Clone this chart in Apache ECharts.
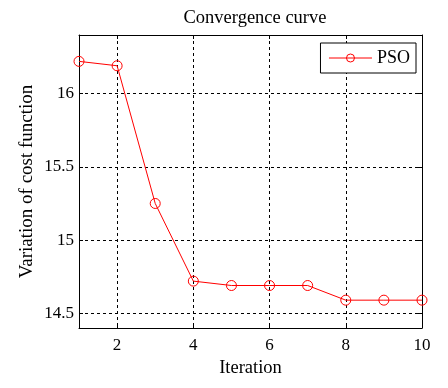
<!DOCTYPE html>
<html>
<head>
<meta charset="utf-8">
<script src="https://cdn.jsdelivr.net/npm/echarts@6/dist/echarts.min.js"></script>
<style>
  html, body { margin: 0; padding: 0; background: #fff; }
  #chart { width: 448px; height: 388px; }
</style>
</head>
<body>
<div id="chart"></div>
<script>
// convergence data
var iterations = [1, 2, 3, 4, 5, 6, 7, 8, 9, 10];
var psoCost = [16.22, 16.19, 15.25, 14.72, 14.69, 14.69, 14.69, 14.59, 14.59, 14.59];
var xTicks = [2, 4, 6, 8, 10];
var yTicks = [14.5, 15, 15.5, 16];

var serif = "Liberation Serif";

var chart = echarts.init(document.getElementById("chart"));

var pts = iterations.map(function (it, i) {
  return [it, psoCost[i]];
});

var option = {
  animation: false,
  backgroundColor: "#fff",
  title: {
    text: "Convergence curve",
    top: 4,
    left: 250,
    textAlign: "center",
    textStyle: { fontFamily: serif, fontSize: 18.5, fontWeight: "normal", color: "#000" }
  },
  grid: { left: 79, right: 26, top: 35, bottom: 60 },
  legend: {
    data: ["PSO"],
    right: 32,
    top: 43,
    orient: "vertical",
    backgroundColor: "#fff",
    borderColor: "#000",
    borderWidth: 1,
    borderRadius: 0,
    padding: [6, 6, 6, 8],
    itemWidth: 43,
    itemHeight: 10,
    itemGap: 4,
    itemStyle: { borderWidth: 1 },
    lineStyle: { color: "#ff0000", width: 1 },
    textStyle: { fontFamily: serif, fontSize: 18, color: "#000" }
  },
  xAxis: [
    {
      type: "value",
      min: 1,
      max: 10,
      name: "Iteration",
      nameLocation: "middle",
      nameGap: 31,
      nameMoveOverlap: false,
      nameTextStyle: { fontFamily: serif, fontSize: 18.5, color: "#000" },
      axisLine: { show: true, lineStyle: { color: "#000", width: 1 } },
      axisTick: { show: true, inside: true, length: 4, customValues: xTicks, lineStyle: { color: "#000" } },
      axisLabel: { customValues: xTicks, fontFamily: serif, fontSize: 17, color: "#000", margin: 9 },
      splitLine: { show: true, lineStyle: { color: "#000", type: [3, 3], width: 1 } }
    },
    {
      type: "value",
      min: 1,
      max: 10,
      position: "top",
      axisLine: { show: true, onZero: false, lineStyle: { color: "#000", width: 1 } },
      axisTick: { show: true, inside: true, length: 4, customValues: xTicks, lineStyle: { color: "#000" } },
      axisLabel: { show: false },
      splitLine: { show: false }
    }
  ],
  yAxis: [
    {
      type: "value",
      min: 14.4,
      max: 16.4,
      name: "Variation of cost function",
      nameLocation: "middle",
      nameGap: 42,
      nameMoveOverlap: false,
      nameTextStyle: { fontFamily: serif, fontSize: 19, color: "#000" },
      axisLine: { show: true, lineStyle: { color: "#000", width: 1 } },
      axisTick: { show: true, inside: true, length: 4, customValues: yTicks, lineStyle: { color: "#000" } },
      axisLabel: { customValues: yTicks, fontFamily: serif, fontSize: 17, color: "#000", margin: 5 },
      splitLine: { show: true, lineStyle: { color: "#000", type: [3, 3], width: 1 } }
    },
    {
      type: "value",
      min: 14.4,
      max: 16.4,
      position: "right",
      axisLine: { show: true, onZero: false, lineStyle: { color: "#000", width: 1 } },
      axisTick: { show: true, inside: true, length: 4, customValues: yTicks, lineStyle: { color: "#000" } },
      axisLabel: { show: false },
      splitLine: { show: false }
    }
  ],
  series: [
    {
      name: "PSO",
      type: "line",
      data: pts,
      symbol: "circle",
      symbolSize: 10,
      lineStyle: { color: "#ff0000", width: 1 },
      itemStyle: { color: "rgba(255,255,255,0)", borderColor: "#ff0000", borderWidth: 1 },
      z: 5
    }
  ]
};

chart.setOption(option);
</script>
</body>
</html>
